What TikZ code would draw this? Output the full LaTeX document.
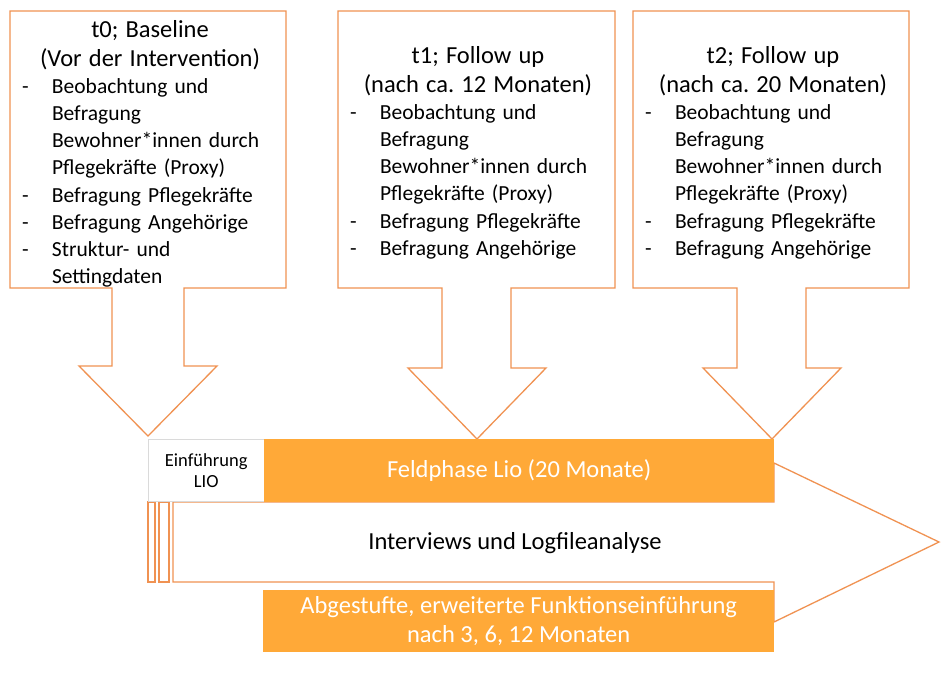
\documentclass[tikz,border=0pt]{standalone}
\usepackage{fontspec}
\setmainfont{Carlito}
\definecolor{lioorange}{RGB}{255,169,56}
\definecolor{lioline}{RGB}{240,146,82}
\definecolor{liogray}{RGB}{218,218,218}
\newcommand{\titel}[1]{{\centering\fontsize{24.5}{29.5}\selectfont #1\par}}
\newcommand{\pkt}[1]{\par\noindent\makebox[30pt][l]{-}\parbox[t]{226pt}{\raggedright\strut #1\strut}\par}

\begin{document}
\begin{tikzpicture}
        [x=1pt, y=-1pt,
        callout/.style={draw=lioline, line width=1.3pt, fill=white},
        boxtext/.style={text width=256pt, inner sep=0pt, font=\fontsize{21.5}{27}\selectfont},
        bar/.style={fill=lioorange, draw=none, text=white, inner sep=0pt, align=center, font=\fontsize{24.5}{29}\selectfont},
        intro/.style={draw=liogray, fill=white, inner sep=0pt, align=center, font=\fontsize{18.5}{21}\selectfont}]
        \useasboundingbox (0,0) rectangle (949,680);
        
        % Messzeitpunkte
        \draw[callout] (10,11) -- (286,11) -- (286,288) -- (184,288) -- (184,366) -- (217,366) -- (148,436) -- (79,366) -- (112,366) -- (112,288) -- (10,288) -- cycle;
        \draw[callout] (338,11) -- (615,11) -- (615,288) -- (511,288) -- (511,368) -- (546,368) -- (477,439) -- (408,368) -- (442,368) -- (442,288) -- (338,288) -- cycle;
        \draw[callout] (633,11) -- (909,11) -- (909,288) -- (806,288) -- (806,368) -- (841,368) -- (772,439) -- (703,368) -- (737,368) -- (737,288) -- (633,288) -- cycle;
        
        \node[boxtext] (t0text) at (150,156) {\titel{t0; Baseline\\(Vor der Intervention)}
            \pkt{Beobachtung und\\Befragung\\Bewohner*innen durch\\Pflegekräfte (Proxy)}
            \pkt{Befragung Pflegekräfte}
            \pkt{Befragung Angehörige}
            \pkt{Struktur- und\\Settingdaten}};
        \node[boxtext] (t1text) at (478,155) {\titel{t1; Follow up\\(nach ca.\ 12 Monaten)}
            \pkt{Beobachtung und\\Befragung\\Bewohner*innen durch\\Pflegekräfte (Proxy)}
            \pkt{Befragung Pflegekräfte}
            \pkt{Befragung Angehörige}};
        \node[boxtext] (t2text) at (773,155) {\titel{t2; Follow up\\(nach ca.\ 20 Monaten)}
            \pkt{Beobachtung und\\Befragung\\Bewohner*innen durch\\Pflegekräfte (Proxy)}
            \pkt{Befragung Pflegekräfte}
            \pkt{Befragung Angehörige}};
        
        % Zeitstrahl
        \draw[callout] (173,502) -- (774,502) -- (774,463) -- (939,542) -- (774,622) -- (774,582) -- (173,582) -- cycle;
        \draw[callout] (148,502) rectangle (155,582);
        \draw[callout] (159,502) rectangle (169,582);
        
        \node[intro, minimum width=116, minimum height=62, anchor=north west] (einf) at (148,439) {Einführung\\LIO};
        \node[bar, minimum width=510, minimum height=63, anchor=north west] (feld) at (264,439) {Feldphase Lio (20 Monate)};
        \node[font=\fontsize{24.5}{29}\selectfont] (interv) at (515,543) {Interviews und Logfileanalyse};
        \node[bar, minimum width=511, minimum height=62, anchor=north west] (abgest) at (263,590) {Abgestufte, erweiterte Funktionseinführung\\nach 3, 6, 12 Monaten};
    \end{tikzpicture}
\end{document}
